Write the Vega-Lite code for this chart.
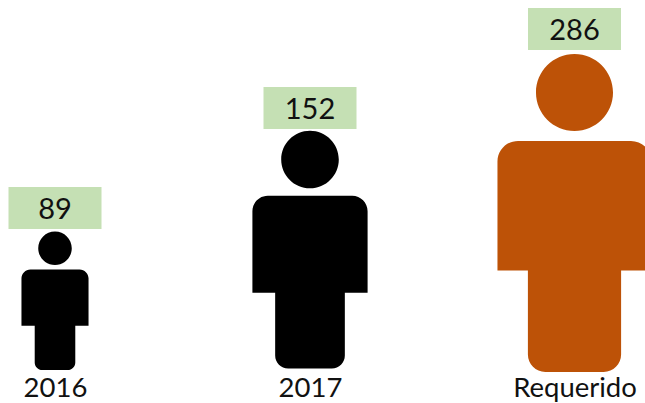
{
"$schema":"https://vega.github.io/schema/vega-lite/v6.json",
"width":645,"height":372,"padding":{"left":0,"top":0,"right":0,"bottom":31},"autosize":{"type":"none"},
"background":"white",
"view":{"stroke":null},
"data":{"values":[
{"categoria":"2016","valor":89},
{"categoria":"2017","valor":152},
{"categoria":"Requerido","valor":286}
]},
"encoding":{
"x":{"field":"valor","type":"quantitative","scale":{"domain":[89,152,286],"range":[55,310,574.5],"zero":false,"nice":false},
"axis":{"values":[89,152,286],"title":null,"domain":false,"ticks":false,"grid":false,"labelExpr":"datum.value==89?'2016':datum.value==152?'2017':'Requerido'","labelFont":"Lato","labelFontSize":27.5,"labelColor":"#111111","labelPadding":2,"labelOverlap":false,"labelFlush":false,"encode":{"labels":{"update":{"dx":{"signal":"datum.value==286?2.5:datum.value==152?1:0"}}}}}}
},
"layer":[
{"mark":{"type":"point","filled":true,"opacity":1,"strokeWidth":0,
"shape":"M-0.243 -1.764A0.243 0.243 0 1 1 0.243 -1.764A0.243 0.243 0 1 1 -0.243 -1.764ZM-0.356 -1.458H0.356A0.13 0.13 0 0 1 0.486 -1.328V-0.64H0.294V-0.11A0.11 0.11 0 0 1 0.184 0H-0.184A0.11 0.11 0 0 1 -0.294 -0.11V-0.64H-0.486V-1.328A0.13 0.13 0 0 1 -0.356 -1.458Z"},
"encoding":{
"y":{"field":"valor","type":"quantitative","axis":null,"scale":{"domain":[89,152,286],"range":[370,368.5,372],"zero":false,"nice":false}},
"size":{"field":"valor","type":"quantitative","legend":null,"scale":{"domain":[89,152,286],"range":[19044,56169,100489],"zero":false,"nice":false}},
"color":{"field":"categoria","type":"nominal","legend":null,"scale":{"domain":["2016","2017","Requerido"],"range":["#000000","#000000","#bd5207"]}}
}},
{"mark":{"type":"point","filled":true,"opacity":1,"strokeWidth":0,"color":"#c5e0b4","size":8649,"shape":"M-1 -0.4516H1V0.4516H-1Z"},
"encoding":{
"y":{"field":"valor","type":"quantitative","axis":null,"scale":{"domain":[89,152,286],"range":[208,108,29],"zero":false,"nice":false}}
}},
{"mark":{"type":"text","font":"Lato","fontSize":29,"color":"#111111","align":"center","baseline":"middle","dy":2},
"encoding":{
"y":{"field":"valor","type":"quantitative","axis":null,"scale":{"domain":[89,152,286],"range":[208,108,29],"zero":false,"nice":false}},
"text":{"field":"valor","type":"quantitative"}
}}
],
"resolve":{"scale":{"y":"independent","color":"independent","size":"independent"}},
"config":{"axis":{"labelLimit":300}}
}
